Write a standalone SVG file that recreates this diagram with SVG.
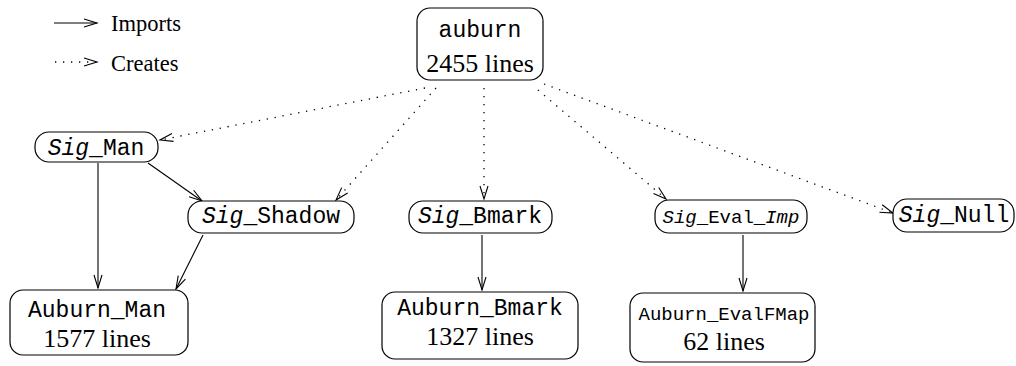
<svg xmlns="http://www.w3.org/2000/svg" width="1016" height="366" viewBox="0 0 1016 366">
  <style>
    .box { fill: #fff; stroke: #000; stroke-width: 1.2; }
    .mono { font-family: "Liberation Mono", "Courier New", monospace; font-size: 23px; fill: #000; }
    .small { font-size: 19px; }
    .serif { font-family: "Liberation Serif", "Times New Roman", serif; font-size: 26px; fill: #000; }
    .legend { font-family: "Liberation Serif", "Times New Roman", serif; font-size: 22.5px; fill: #000; }
    .imp { fill: none; stroke: #000; stroke-width: 1.1; marker-end: url(#vee); }
    .cre { fill: none; stroke: #000; stroke-width: 1.3; stroke-dasharray: 1.3 6.7; marker-end: url(#vee); }
  </style>
  <defs>
    <marker id="vee" markerUnits="userSpaceOnUse" markerWidth="17" markerHeight="12" refX="14" refY="5" orient="auto">
      <path d="M1,1 L14,5 L1,9" fill="none" stroke="#000" stroke-width="1.1"/>
    </marker>
  </defs>
  <rect width="1016" height="366" fill="#fff"/>

  <!-- legend -->
  <g id="legend">
    <line class="imp" x1="54" y1="23" x2="97" y2="23"/>
    <text class="legend" x="111" y="31">Imports</text>
    <line class="cre" x1="55" y1="62" x2="97" y2="62"/>
    <text class="legend" x="111" y="71">Creates</text>
  </g>

  <!-- connectors -->
  <g id="connectors">
    <path class="cre" d="M425,88 L160,140"/>
    <path class="cre" d="M436,88 L336,200"/>
    <path class="cre" d="M484,88 L484,199"/>
    <path class="cre" d="M538,90 L666,199"/>
    <path class="cre" d="M544,84 L893,213"/>
    <path class="imp" d="M148,163 L202,201"/>
    <path class="imp" d="M98,163 L98,288"/>
    <path class="imp" d="M203,235 L176,289"/>
    <path class="imp" d="M482,235 L482,290"/>
    <path class="imp" d="M743,235 L743,291"/>
  </g>

  <!-- nodes -->
  <g id="auburn">
    <rect class="box" x="417" y="8" width="126" height="72" rx="13"/>
    <text class="mono" x="480" y="37" text-anchor="middle">auburn</text>
    <text class="serif" x="480" y="72" text-anchor="middle">2455 lines</text>
  </g>

  <g id="sig_man">
    <rect class="box" x="35" y="132" width="123" height="30" rx="14"/>
    <text class="mono" x="96" y="155" text-anchor="middle"><tspan font-style="italic">Sig</tspan>_Man</text>
  </g>

  <g id="sig_shadow">
    <rect class="box" x="188" y="201" width="166" height="32" rx="14"/>
    <text class="mono" x="271" y="223" text-anchor="middle"><tspan font-style="italic">Sig</tspan>_Shadow</text>
  </g>

  <g id="sig_bmark">
    <rect class="box" x="409" y="201" width="143" height="32" rx="14"/>
    <text class="mono" x="480" y="223" text-anchor="middle"><tspan font-style="italic">Sig</tspan>_Bmark</text>
  </g>

  <g id="sig_eval_imp">
    <rect class="box" x="655" y="200" width="152" height="33" rx="14"/>
    <text class="mono small" x="731" y="223" text-anchor="middle"><tspan font-style="italic">Sig</tspan>_Eval_<tspan font-style="italic">Imp</tspan></text>
  </g>

  <g id="sig_null">
    <rect class="box" x="893" y="199" width="121" height="33" rx="14"/>
    <text class="mono" x="954" y="222" text-anchor="middle"><tspan font-style="italic">Sig</tspan>_Null</text>
  </g>

  <g id="auburn_man">
    <rect class="box" x="10" y="290" width="178" height="65" rx="13"/>
    <text class="mono" x="97" y="317" text-anchor="middle">Auburn_Man</text>
    <text class="serif" x="97" y="347" text-anchor="middle">1577 lines</text>
  </g>

  <g id="auburn_bmark">
    <rect class="box" x="382" y="292" width="196" height="67" rx="13"/>
    <text class="mono" x="480" y="315" text-anchor="middle">Auburn_Bmark</text>
    <text class="serif" x="480" y="345" text-anchor="middle">1327 lines</text>
  </g>

  <g id="auburn_evalfmap">
    <rect class="box" x="630" y="293" width="185" height="69" rx="13"/>
    <text class="mono small" x="724" y="320" text-anchor="middle">Auburn_EvalFMap</text>
    <text class="serif" x="724" y="350" text-anchor="middle">62 lines</text>
  </g>
</svg>
